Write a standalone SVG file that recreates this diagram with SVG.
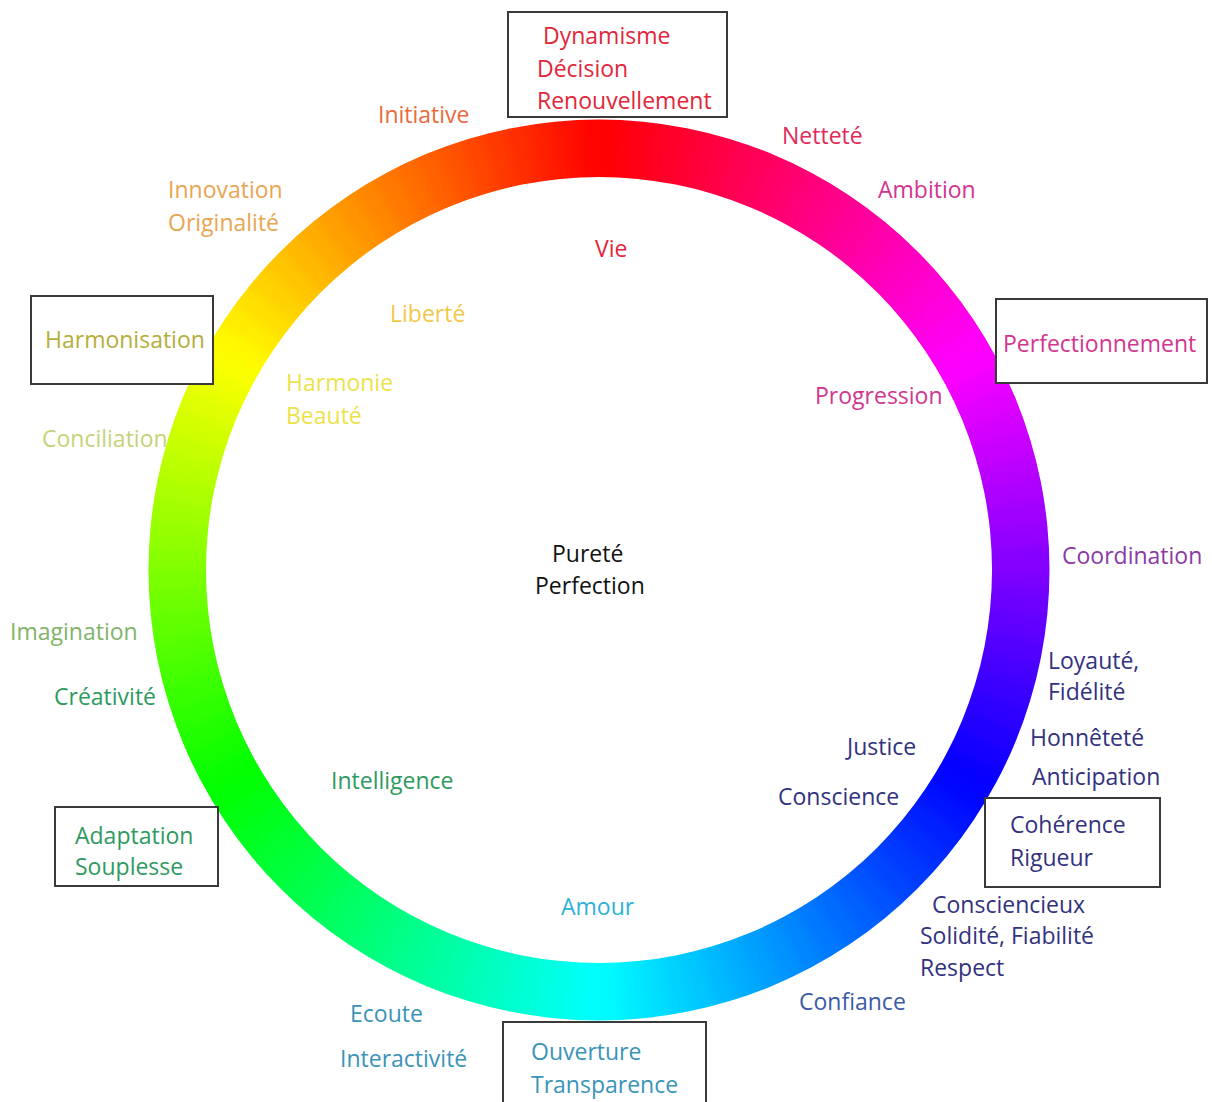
<svg xmlns="http://www.w3.org/2000/svg" xmlns:xlink="http://www.w3.org/1999/xlink" width="1212" height="1102" viewBox="0 0 1212 1102">
<style>
text{font-family:"Open Sans","Noto Sans","DejaVu Sans",sans-serif;font-size:23px}
.box{fill:#fff;stroke:#3a3a3a;stroke-width:2}
.red{fill:#e2263a}
.ora{fill:#ea6a3e}
.ora2{fill:#eaa552}
.yel{fill:#f2c84a}
.yel2{fill:#ece24a}
.oli{fill:#b4ae3a}
.lgr{fill:#c6d27a}
.gr1{fill:#7fb46a}
.gr2{fill:#2e9a60}
.cya{fill:#2eb2d8}
.tea{fill:#3a94b8}
.blu{fill:#3a5aa8}
.nav{fill:#32327e}
.pur{fill:#8a3aa6}
.mag{fill:#d2358f}
.pnk{fill:#e02a5a}
.blk{fill:#111}
</style>
<defs>
<path id="s" d="M1021 570A422 422 0 0 1 1020.17 596.5" fill="none" stroke-width="100"/>
<filter id="bl" x="-10%" y="-10%" width="120%" height="120%" color-interpolation-filters="sRGB"><feGaussianBlur stdDeviation="6"/></filter>
<clipPath id="ann"><path clip-rule="evenodd" d="M148.5 570A450.5 450.5 0 1 0 1049.5 570A450.5 450.5 0 1 0 148.5 570ZM206 570A393 393 0 1 0 992 570A393 393 0 1 0 206 570Z"/></clipPath>
</defs>
<rect width="1212" height="1102" fill="#fff"/>
<g id="ring" clip-path="url(#ann)">
<g filter="url(#bl)">
<use href="#s" transform="rotate(0 599 570)" stroke="hsl(268.5,100%,50%)"/>
<use href="#s" transform="rotate(3 599 570)" stroke="hsl(265.5,100%,50%)"/>
<use href="#s" transform="rotate(6 599 570)" stroke="hsl(262.5,100%,50%)"/>
<use href="#s" transform="rotate(9 599 570)" stroke="hsl(259.5,100%,50%)"/>
<use href="#s" transform="rotate(12 599 570)" stroke="hsl(256.5,100%,50%)"/>
<use href="#s" transform="rotate(15 599 570)" stroke="hsl(253.5,100%,50%)"/>
<use href="#s" transform="rotate(18 599 570)" stroke="hsl(250.5,100%,50%)"/>
<use href="#s" transform="rotate(21 599 570)" stroke="hsl(247.5,100%,50%)"/>
<use href="#s" transform="rotate(24 599 570)" stroke="hsl(244.5,100%,50%)"/>
<use href="#s" transform="rotate(27 599 570)" stroke="hsl(241.5,100%,50%)"/>
<use href="#s" transform="rotate(30 599 570)" stroke="hsl(238.5,100%,50%)"/>
<use href="#s" transform="rotate(33 599 570)" stroke="hsl(235.5,100%,50%)"/>
<use href="#s" transform="rotate(36 599 570)" stroke="hsl(232.5,100%,50%)"/>
<use href="#s" transform="rotate(39 599 570)" stroke="hsl(229.5,100%,50%)"/>
<use href="#s" transform="rotate(42 599 570)" stroke="hsl(226.5,100%,50%)"/>
<use href="#s" transform="rotate(45 599 570)" stroke="hsl(223.5,100%,50%)"/>
<use href="#s" transform="rotate(48 599 570)" stroke="hsl(220.5,100%,50%)"/>
<use href="#s" transform="rotate(51 599 570)" stroke="hsl(217.5,100%,50%)"/>
<use href="#s" transform="rotate(54 599 570)" stroke="hsl(214.5,100%,50%)"/>
<use href="#s" transform="rotate(57 599 570)" stroke="hsl(211.5,100%,50%)"/>
<use href="#s" transform="rotate(60 599 570)" stroke="hsl(208.5,100%,50%)"/>
<use href="#s" transform="rotate(63 599 570)" stroke="hsl(205.5,100%,50%)"/>
<use href="#s" transform="rotate(66 599 570)" stroke="hsl(202.5,100%,50%)"/>
<use href="#s" transform="rotate(69 599 570)" stroke="hsl(199.5,100%,50%)"/>
<use href="#s" transform="rotate(72 599 570)" stroke="hsl(196.5,100%,50%)"/>
<use href="#s" transform="rotate(75 599 570)" stroke="hsl(193.5,100%,50%)"/>
<use href="#s" transform="rotate(78 599 570)" stroke="hsl(190.5,100%,50%)"/>
<use href="#s" transform="rotate(81 599 570)" stroke="hsl(187.5,100%,50%)"/>
<use href="#s" transform="rotate(84 599 570)" stroke="hsl(184.5,100%,50%)"/>
<use href="#s" transform="rotate(87 599 570)" stroke="hsl(181.5,100%,50%)"/>
<use href="#s" transform="rotate(90 599 570)" stroke="hsl(178.5,100%,50%)"/>
<use href="#s" transform="rotate(93 599 570)" stroke="hsl(175.5,100%,50%)"/>
<use href="#s" transform="rotate(96 599 570)" stroke="hsl(172.5,100%,50%)"/>
<use href="#s" transform="rotate(99 599 570)" stroke="hsl(169.5,100%,50%)"/>
<use href="#s" transform="rotate(102 599 570)" stroke="hsl(166.5,100%,50%)"/>
<use href="#s" transform="rotate(105 599 570)" stroke="hsl(163.5,100%,50%)"/>
<use href="#s" transform="rotate(108 599 570)" stroke="hsl(160.5,100%,50%)"/>
<use href="#s" transform="rotate(111 599 570)" stroke="hsl(157.5,100%,50%)"/>
<use href="#s" transform="rotate(114 599 570)" stroke="hsl(154.5,100%,50%)"/>
<use href="#s" transform="rotate(117 599 570)" stroke="hsl(151.5,100%,50%)"/>
<use href="#s" transform="rotate(120 599 570)" stroke="hsl(148.5,100%,50%)"/>
<use href="#s" transform="rotate(123 599 570)" stroke="hsl(145.5,100%,50%)"/>
<use href="#s" transform="rotate(126 599 570)" stroke="hsl(142.5,100%,50%)"/>
<use href="#s" transform="rotate(129 599 570)" stroke="hsl(139.5,100%,50%)"/>
<use href="#s" transform="rotate(132 599 570)" stroke="hsl(136.5,100%,50%)"/>
<use href="#s" transform="rotate(135 599 570)" stroke="hsl(133.5,100%,50%)"/>
<use href="#s" transform="rotate(138 599 570)" stroke="hsl(130.5,100%,50%)"/>
<use href="#s" transform="rotate(141 599 570)" stroke="hsl(127.5,100%,50%)"/>
<use href="#s" transform="rotate(144 599 570)" stroke="hsl(124.5,100%,50%)"/>
<use href="#s" transform="rotate(147 599 570)" stroke="hsl(121.5,100%,50%)"/>
<use href="#s" transform="rotate(150 599 570)" stroke="hsl(118.5,100%,50%)"/>
<use href="#s" transform="rotate(153 599 570)" stroke="hsl(115.5,100%,50%)"/>
<use href="#s" transform="rotate(156 599 570)" stroke="hsl(112.5,100%,50%)"/>
<use href="#s" transform="rotate(159 599 570)" stroke="hsl(109.5,100%,50%)"/>
<use href="#s" transform="rotate(162 599 570)" stroke="hsl(106.5,100%,50%)"/>
<use href="#s" transform="rotate(165 599 570)" stroke="hsl(103.5,100%,50%)"/>
<use href="#s" transform="rotate(168 599 570)" stroke="hsl(100.5,100%,50%)"/>
<use href="#s" transform="rotate(171 599 570)" stroke="hsl(97.5,100%,50%)"/>
<use href="#s" transform="rotate(174 599 570)" stroke="hsl(94.5,100%,50%)"/>
<use href="#s" transform="rotate(177 599 570)" stroke="hsl(91.5,100%,50%)"/>
<use href="#s" transform="rotate(180 599 570)" stroke="hsl(88.5,100%,50%)"/>
<use href="#s" transform="rotate(183 599 570)" stroke="hsl(85.5,100%,50%)"/>
<use href="#s" transform="rotate(186 599 570)" stroke="hsl(82.5,100%,50%)"/>
<use href="#s" transform="rotate(189 599 570)" stroke="hsl(79.5,100%,50%)"/>
<use href="#s" transform="rotate(192 599 570)" stroke="hsl(76.5,100%,50%)"/>
<use href="#s" transform="rotate(195 599 570)" stroke="hsl(73.5,100%,50%)"/>
<use href="#s" transform="rotate(198 599 570)" stroke="hsl(70.5,100%,50%)"/>
<use href="#s" transform="rotate(201 599 570)" stroke="hsl(67.5,100%,50%)"/>
<use href="#s" transform="rotate(204 599 570)" stroke="hsl(64.5,100%,50%)"/>
<use href="#s" transform="rotate(207 599 570)" stroke="hsl(61.5,100%,50%)"/>
<use href="#s" transform="rotate(210 599 570)" stroke="hsl(58.5,100%,50%)"/>
<use href="#s" transform="rotate(213 599 570)" stroke="hsl(55.5,100%,50%)"/>
<use href="#s" transform="rotate(216 599 570)" stroke="hsl(52.5,100%,50%)"/>
<use href="#s" transform="rotate(219 599 570)" stroke="hsl(49.5,100%,50%)"/>
<use href="#s" transform="rotate(222 599 570)" stroke="hsl(46.5,100%,50%)"/>
<use href="#s" transform="rotate(225 599 570)" stroke="hsl(43.5,100%,50%)"/>
<use href="#s" transform="rotate(228 599 570)" stroke="hsl(40.5,100%,50%)"/>
<use href="#s" transform="rotate(231 599 570)" stroke="hsl(37.5,100%,50%)"/>
<use href="#s" transform="rotate(234 599 570)" stroke="hsl(34.5,100%,50%)"/>
<use href="#s" transform="rotate(237 599 570)" stroke="hsl(31.5,100%,50%)"/>
<use href="#s" transform="rotate(240 599 570)" stroke="hsl(28.5,100%,50%)"/>
<use href="#s" transform="rotate(243 599 570)" stroke="hsl(25.5,100%,50%)"/>
<use href="#s" transform="rotate(246 599 570)" stroke="hsl(22.5,100%,50%)"/>
<use href="#s" transform="rotate(249 599 570)" stroke="hsl(19.5,100%,50%)"/>
<use href="#s" transform="rotate(252 599 570)" stroke="hsl(16.5,100%,50%)"/>
<use href="#s" transform="rotate(255 599 570)" stroke="hsl(13.5,100%,50%)"/>
<use href="#s" transform="rotate(258 599 570)" stroke="hsl(10.5,100%,50%)"/>
<use href="#s" transform="rotate(261 599 570)" stroke="hsl(7.5,100%,50%)"/>
<use href="#s" transform="rotate(264 599 570)" stroke="hsl(4.5,100%,50%)"/>
<use href="#s" transform="rotate(267 599 570)" stroke="hsl(1.5,100%,50%)"/>
<use href="#s" transform="rotate(270 599 570)" stroke="hsl(358.5,100%,50%)"/>
<use href="#s" transform="rotate(273 599 570)" stroke="hsl(355.5,100%,50%)"/>
<use href="#s" transform="rotate(276 599 570)" stroke="hsl(352.5,100%,50%)"/>
<use href="#s" transform="rotate(279 599 570)" stroke="hsl(349.5,100%,50%)"/>
<use href="#s" transform="rotate(282 599 570)" stroke="hsl(346.5,100%,50%)"/>
<use href="#s" transform="rotate(285 599 570)" stroke="hsl(343.5,100%,50%)"/>
<use href="#s" transform="rotate(288 599 570)" stroke="hsl(340.5,100%,50%)"/>
<use href="#s" transform="rotate(291 599 570)" stroke="hsl(337.5,100%,50%)"/>
<use href="#s" transform="rotate(294 599 570)" stroke="hsl(334.5,100%,50%)"/>
<use href="#s" transform="rotate(297 599 570)" stroke="hsl(331.5,100%,50%)"/>
<use href="#s" transform="rotate(300 599 570)" stroke="hsl(328.5,100%,50%)"/>
<use href="#s" transform="rotate(303 599 570)" stroke="hsl(325.5,100%,50%)"/>
<use href="#s" transform="rotate(306 599 570)" stroke="hsl(322.5,100%,50%)"/>
<use href="#s" transform="rotate(309 599 570)" stroke="hsl(319.5,100%,50%)"/>
<use href="#s" transform="rotate(312 599 570)" stroke="hsl(316.5,100%,50%)"/>
<use href="#s" transform="rotate(315 599 570)" stroke="hsl(313.5,100%,50%)"/>
<use href="#s" transform="rotate(318 599 570)" stroke="hsl(310.5,100%,50%)"/>
<use href="#s" transform="rotate(321 599 570)" stroke="hsl(307.5,100%,50%)"/>
<use href="#s" transform="rotate(324 599 570)" stroke="hsl(304.5,100%,50%)"/>
<use href="#s" transform="rotate(327 599 570)" stroke="hsl(301.5,100%,50%)"/>
<use href="#s" transform="rotate(330 599 570)" stroke="hsl(298.5,100%,50%)"/>
<use href="#s" transform="rotate(333 599 570)" stroke="hsl(295.5,100%,50%)"/>
<use href="#s" transform="rotate(336 599 570)" stroke="hsl(292.5,100%,50%)"/>
<use href="#s" transform="rotate(339 599 570)" stroke="hsl(289.5,100%,50%)"/>
<use href="#s" transform="rotate(342 599 570)" stroke="hsl(286.5,100%,50%)"/>
<use href="#s" transform="rotate(345 599 570)" stroke="hsl(283.5,100%,50%)"/>
<use href="#s" transform="rotate(348 599 570)" stroke="hsl(280.5,100%,50%)"/>
<use href="#s" transform="rotate(351 599 570)" stroke="hsl(277.5,100%,50%)"/>
<use href="#s" transform="rotate(354 599 570)" stroke="hsl(274.5,100%,50%)"/>
<use href="#s" transform="rotate(357 599 570)" stroke="hsl(271.5,100%,50%)"/>
</g>
</g>
<g id="box-dynamisme"><rect class="box" x="508" y="12" width="219" height="105"/><text class="red" x="543" y="44">Dynamisme</text><text class="red" x="537" y="77">Décision</text><text class="red" x="537" y="109">Renouvellement</text></g>
<g id="box-harmonisation"><rect class="box" x="31" y="296" width="182" height="88"/><text class="oli" x="45" y="348">Harmonisation</text></g>
<g id="box-perfectionnement"><rect class="box" x="996" y="299" width="211" height="84"/><text class="mag" x="1003" y="352">Perfectionnement</text></g>
<g id="box-coherence"><rect class="box" x="985" y="798" width="175" height="89"/><text class="nav" x="1010" y="833">Cohérence</text><text class="nav" x="1010" y="866">Rigueur</text></g>
<g id="box-adaptation"><rect class="box" x="55" y="807" width="163" height="79"/><text class="gr2" x="75" y="844">Adaptation</text><text class="gr2" x="75" y="875">Souplesse</text></g>
<g id="box-ouverture"><rect class="box" x="503" y="1022" width="203" height="90"/><text class="tea" x="531" y="1060">Ouverture</text><text class="tea" x="531" y="1093">Transparence</text></g>
<g id="labels">
<text class="ora" x="378" y="123">Initiative</text>
<text class="pnk" x="782" y="144">Netteté</text>
<text class="ora2" x="168" y="198">Innovation</text>
<text class="ora2" x="168" y="231">Originalité</text>
<text class="mag" x="878" y="198">Ambition</text>
<text class="red" x="595" y="257">Vie</text>
<text class="yel" x="390" y="322">Liberté</text>
<text class="yel2" x="286" y="391">Harmonie</text>
<text class="yel2" x="286" y="424">Beauté</text>
<text class="mag" x="815" y="404">Progression</text>
<text class="lgr" x="42" y="447">Conciliation</text>
<text class="blk" x="552" y="562">Pureté</text>
<text class="blk" x="535" y="594">Perfection</text>
<text class="pur" x="1062" y="564">Coordination</text>
<text class="gr1" x="10" y="640">Imagination</text>
<text class="nav" x="1048" y="669">Loyauté,</text>
<text class="nav" x="1048" y="700">Fidélité</text>
<text class="gr2" x="54" y="705">Créativité</text>
<text class="nav" x="847" y="755">Justice</text>
<text class="nav" x="1030" y="746">Honnêteté</text>
<text class="gr2" x="331" y="789">Intelligence</text>
<text class="nav" x="1032" y="785">Anticipation</text>
<text class="nav" x="778" y="805">Conscience</text>
<text class="cya" x="561" y="915">Amour</text>
<text class="nav" x="932" y="913">Consciencieux</text>
<text class="nav" x="920" y="944">Solidité, Fiabilité</text>
<text class="nav" x="920" y="976">Respect</text>
<text class="blu" x="799" y="1010">Confiance</text>
<text class="tea" x="350" y="1022">Ecoute</text>
<text class="tea" x="340" y="1067">Interactivité</text>
</g>
</svg>
